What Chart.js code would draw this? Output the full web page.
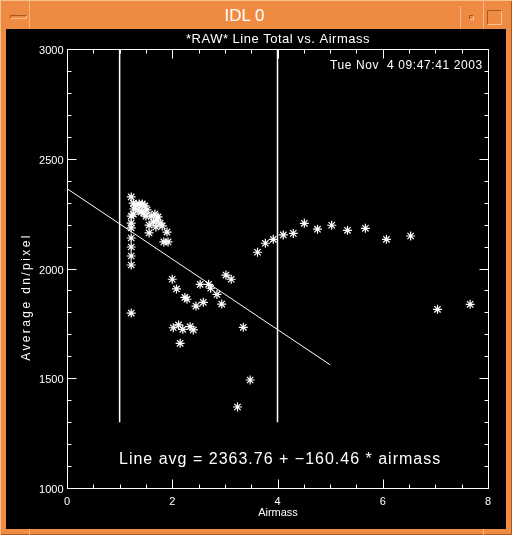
<!DOCTYPE html>
<html>
<head>
<meta charset="utf-8">
<script src="https://cdn.jsdelivr.net/npm/chart.js@4.4.1/dist/chart.umd.min.js"></script>
<style>
  body { margin: 0; background: #ee8a42; }
  #win { position: relative; width: 512px; height: 535px; background: #ee8a42; overflow: hidden;
         box-shadow: inset 1px 1px 0 #f8bf8f, inset -1px -1px 0 #a9581f; }
  .sep { position: absolute; width: 1px; background: #f6b583; }
  #title { position: absolute; left: 29px; width: 431px; top: 6px; height: 22px; line-height: 22px;
           text-align: center; color: #fff; font: 17px "Liberation Sans", Arial, sans-serif; }
  #dash { position: absolute; left: 10px; top: 15px; width: 15px; height: 2px;
          border: 1px solid; border-color: #a9581f #f8bf8f #f8bf8f #a9581f; }
  #dot { position: absolute; left: 469px; top: 15px; width: 3px; height: 3px;
         border: 1px solid; border-color: #a9581f #f8bf8f #f8bf8f #a9581f; }
  #box { position: absolute; left: 487px; top: 10px; width: 13px; height: 13px;
         border: 1px solid; border-color: #a9581f #f8bf8f #f8bf8f #a9581f; }
  #plot { position: absolute; left: 6px; top: 29px; width: 500px; height: 500px; background: #000; }
</style>
</head>
<body>
<div id="win">
  <div class="sep" style="left:29px;top:0;height:29px"></div>
  <div class="sep" style="left:460px;top:6px;height:23px"></div>
  <div class="sep" style="left:483px;top:0;height:29px"></div>
  <div class="sep" style="left:29px;top:529px;height:6px"></div>
  <div class="sep" style="left:483px;top:529px;height:6px"></div>
  <div id="dash"></div>
  <div id="title">IDL 0</div>
  <div id="dot"></div>
  <div id="box"></div>
  <div id="plot"><canvas id="c" width="500" height="500"></canvas></div>
</div>
<script>
// measured points (airmass, average dn/pixel)
const airmass = [
  1.22, 1.22, 1.22, 1.22, 1.22, 1.22, 1.22, 1.22, 1.22,
  1.26, 1.31, 1.37, 1.43, 1.48, 1.27, 1.35, 1.41, 1.46, 1.52, 1.26, 1.50,
  1.60, 1.67, 1.73, 1.64, 1.71, 1.77, 1.56, 1.81, 1.69, 1.56, 1.90, 1.92, 1.84,
  2.00, 2.08, 2.24, 2.28, 2.45, 2.59, 2.53, 2.69, 2.73, 2.85, 2.94, 3.02, 3.12,
  3.35, 3.48, 3.24,
  2.02, 2.12, 2.20, 2.34, 2.40, 2.15,
  3.62, 3.77, 3.92, 4.11, 4.30, 4.51, 4.76, 5.03, 5.33, 5.67, 6.07, 6.53, 7.04, 7.66
];
const lineTotal = [
  2326, 2239, 2207, 2185, 2139, 2098, 2057, 2016, 1797,
  2298, 2289, 2294, 2294, 2285, 2271, 2267, 2257, 2253, 2267, 2248, 2239,
  2239, 2248, 2235, 2212, 2221, 2207, 2198, 2194, 2189, 2162, 2166, 2121, 2121,
  1951, 1907, 1868, 1860, 1829, 1846, 1928, 1928, 1910, 1882, 1838, 1970, 1951,
  1732, 1492, 1369,
  1730, 1743, 1723, 1735, 1720, 1659,
  2074, 2115, 2133, 2153, 2160, 2206, 2179, 2197, 2174, 2183, 2133, 2148, 1814, 1837
];

// least squares line end points
const fitX = [0, 5];
const fitY = [2363.76, 1561.46];

// airmass cut markers
const cutX = [1, 4];
const cutY = [1300, 3000];

const xTicks = [0, 2, 4, 6, 8];
const xMinor = [0.5, 1, 1.5, 2.5, 3, 3.5, 4.5, 5, 5.5, 6.5, 7, 7.5];
const yTicks = [1000, 1500, 2000, 2500, 3000];
const yMinor = [1100, 1200, 1300, 1400, 1600, 1700, 1800, 1900, 2100, 2200, 2300, 2400, 2600, 2700, 2800, 2900];

const FONT = '"Liberation Sans", Arial, sans-serif';

// IDL style box with inward ticks and plain text
const idlAxes = {
  id: 'idlAxes',
  beforeDatasetsDraw(chart) {
    const ctx = chart.ctx;
    const xs = chart.scales.x, ys = chart.scales.y;
    const a = chart.chartArea;
    const L = Math.round(a.left) + 0.5, R = Math.round(a.right) + 0.5;
    const T = Math.round(a.top) + 0.5, B = Math.round(a.bottom) + 0.5;
    ctx.save();
    ctx.strokeStyle = '#fff';
    ctx.lineWidth = 1;
    ctx.strokeRect(L, T, R - L, B - T);
    ctx.beginPath();
    const tickX = (v, len) => {
      const p = Math.round(xs.getPixelForValue(v)) + 0.5;
      ctx.moveTo(p, B); ctx.lineTo(p, B - len);
      ctx.moveTo(p, T); ctx.lineTo(p, T + len);
    };
    const tickY = (v, len) => {
      const p = Math.round(ys.getPixelForValue(v)) + 0.5;
      ctx.moveTo(L, p); ctx.lineTo(L + len, p);
      ctx.moveTo(R, p); ctx.lineTo(R - len, p);
    };
    xTicks.forEach(v => tickX(v, 9));
    xMinor.forEach(v => tickX(v, 4));
    yTicks.forEach(v => tickY(v, 9));
    yMinor.forEach(v => tickY(v, 4));
    ctx.stroke();

    ctx.fillStyle = '#fff';
    ctx.font = '11px ' + FONT;
    ctx.textBaseline = 'middle';
    ctx.textAlign = 'center';
    xTicks.forEach(v => ctx.fillText(String(v), xs.getPixelForValue(v), B + 13));
    ctx.fillText('Airmass', (L + R) / 2, 484);
    ctx.textAlign = 'right';
    yTicks.forEach(v => ctx.fillText(String(v), L - 4, ys.getPixelForValue(v) + 2));

    ctx.save();
    ctx.translate(21, 268);
    ctx.rotate(-Math.PI / 2);
    ctx.textAlign = 'center';
    ctx.font = '12px ' + FONT;
    ctx.letterSpacing = '2.4px';
    ctx.fillText('Average dn/pixel', 0, 0);
    ctx.restore();

    ctx.textAlign = 'center';
    ctx.font = '13px ' + FONT;
    ctx.letterSpacing = '0.5px';
    ctx.fillText('*RAW* Line Total vs. Airmass', (L + R) / 2, 10);
    ctx.textAlign = 'left';
    ctx.font = '12px ' + FONT;
    ctx.letterSpacing = '0.6px';
    ctx.fillText('Tue Nov  4 09:47:41 2003', 324, 37);
    ctx.font = '16px ' + FONT;
    ctx.letterSpacing = '1px';
    ctx.fillText('Line avg = 2363.76 + \u2212160.46 * airmass', 113, 431);
    ctx.restore();
  }
};

new Chart(document.getElementById('c'), {
  type: 'scatter',
  data: {
    datasets: [
      {
        data: airmass.map((x, i) => ({ x, y: lineTotal[i] })),
        showLine: false,
        pointStyle: 'star',
        radius: 4.5,
        borderColor: '#fff',
        backgroundColor: '#fff',
        borderWidth: 1.2
      },
      {
        data: fitX.map((x, i) => ({ x, y: fitY[i] })),
        showLine: true,
        borderColor: '#fff',
        borderWidth: 1,
        pointRadius: 0
      },
      {
        data: cutY.map(y => ({ x: cutX[0], y })),
        showLine: true,
        borderColor: '#fff',
        borderWidth: 1.5,
        pointRadius: 0
      },
      {
        data: cutY.map(y => ({ x: cutX[1], y })),
        showLine: true,
        borderColor: '#fff',
        borderWidth: 1.5,
        pointRadius: 0
      }
    ]
  },
  options: {
    responsive: false,
    animation: false,
    devicePixelRatio: 1,
    layout: { padding: { left: 61, right: 18, top: 20, bottom: 41 } },
    plugins: { legend: { display: false }, tooltip: { enabled: false } },
    scales: {
      x: { type: 'linear', min: 0, max: 8, display: false },
      y: { type: 'linear', min: 1000, max: 3000, display: false }
    }
  },
  plugins: [idlAxes]
});
</script>
</body>
</html>
